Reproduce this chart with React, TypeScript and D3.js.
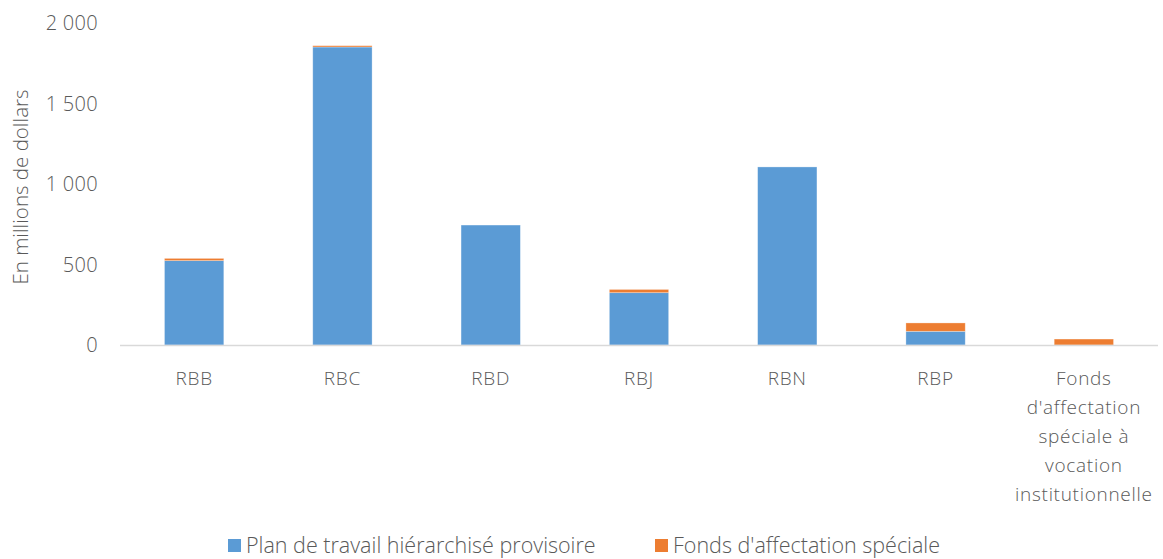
import React from "react";
import * as d3 from "d3";

const categories: string[][] = [
  ["RBB"],
  ["RBC"],
  ["RBD"],
  ["RBJ"],
  ["RBN"],
  ["RBP"],
  ["Fonds", "d'affectation", "spéciale à", "vocation", "institutionnelle"],
];
const planValues = [524, 1851, 745, 325, 1106, 85, 0];
const fondsValues = [14, 8, 0, 20, 0, 52, 37];
const yTicks = [0, 500, 1000, 1500, 2000];
const seriesNames = ["Plan de travail hiérarchisé provisoire", "Fonds d'affectation spéciale"];
const colors = ["#5b9bd5", "#ed7d31"];

const W = 1163, H = 559;
const fmt = (v: number) => d3.format(",")(v).replace(/,/g, " ");

export default function App() {
  const x = d3.scaleBand<number>().domain(categories.map((_, i) => i)).range([120, 1158]).paddingInner(0.6).paddingOuter(0.3);
  const y = d3.scaleLinear().domain([0, 2000]).range([345, 23]);
  const font = "'Open Sans', sans-serif";
  const textColor = "#595959";
  return (
    <svg width={W} height={H} style={{ position: "absolute", left: 0, top: 0, background: "#fff" }}>
      {yTicks.map((t) => (
        <text key={t} x={98} y={y(t)} dy="0.35em" textAnchor="end" fontFamily={font} fontWeight={300} fontSize={20} letterSpacing={0.3} fill={textColor}>
          {fmt(t)}
        </text>
      ))}
      <text transform={`translate(28,${y(1000) + 3}) rotate(-90)`} textAnchor="middle" fontFamily={font} fontWeight={300} fontSize={20.5} fill={textColor}>
        En millions de dollars
      </text>
      {categories.map((c, i) => {
        const x0 = x(i)!;
        const b = x.bandwidth();
        const p = planValues[i];
        const f = fondsValues[i];
        return (
          <g key={i}>
            {p > 0 && <rect x={x0} y={y(p)} width={b} height={y(0) - y(p)} fill={colors[0]} stroke="#fff" strokeOpacity={0.4} strokeWidth={0.75} />}
            {f > 0 && <rect x={x0} y={y(p + f)} width={b} height={y(p) - y(p + f)} fill={colors[1]} stroke="#fff" strokeOpacity={0.4} strokeWidth={0.75} />}
            <text x={x0 + b / 2} y={378} dy="0.35em" textAnchor="middle" fontFamily={font} fontWeight={300} fontSize={19} letterSpacing={0.7} fill={textColor}>
              {c.map((line, j) => (
                <tspan key={j} x={x0 + b / 2} dy={j === 0 ? "0.35em" : 29}>{line}</tspan>
              ))}
            </text>
          </g>
        );
      })}
      <line x1={120} x2={1158} y1={y(0) + 0.5} y2={y(0) + 0.5} stroke="#d9d9d9" strokeWidth={1.5} />
      {seriesNames.map((s, i) => {
        const lx = i === 0 ? 228 : 655;
        return (
          <g key={s}>
            <rect x={lx} y={539} width={13} height={13} fill={colors[i]} />
            <text x={lx + 18} y={545} dy="0.35em" fontFamily={font} fontWeight={300} fontSize={21.5} fill={textColor}>{s}</text>
          </g>
        );
      })}
    </svg>
  );
}
